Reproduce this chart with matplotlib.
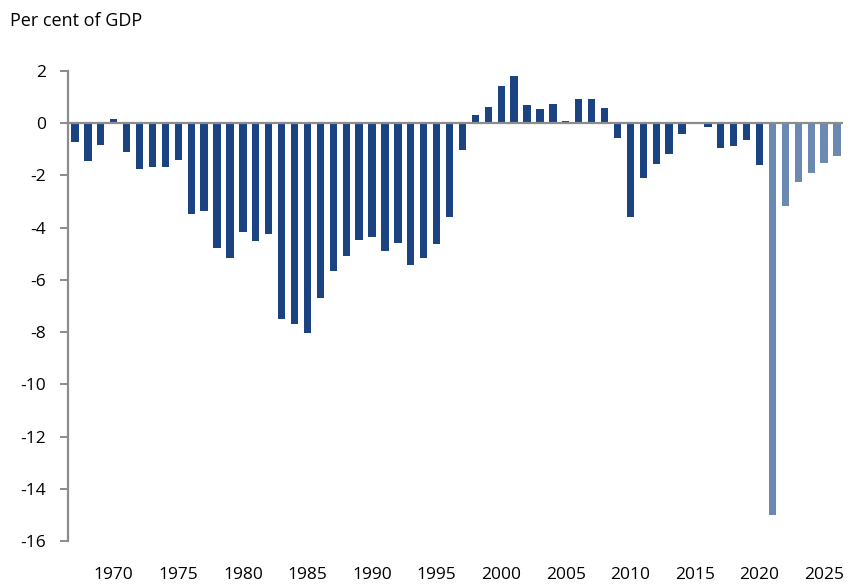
import matplotlib
matplotlib.use("Agg")
import matplotlib.pyplot as plt
import numpy as np

years = list(range(1967, 2027))
values = [
    -0.71, -1.44, -0.84, 0.15, -1.10, -1.75, -1.68, -1.67, -1.40, -3.49,   # 1967-1976
    -3.35, -4.79, -5.17, -4.17, -4.51, -4.24, -7.49, -7.69, -8.05, -6.69,  # 1977-1986
    -5.67, -5.07, -4.46, -4.34, -4.88, -4.60, -5.44, -5.16, -4.62, -3.61,  # 1987-1996
    -1.02, 0.32, 0.61, 1.41, 1.81, 0.70, 0.55, 0.74, 0.10, 0.93,          # 1997-2006
    0.92, 0.60, -0.56, -3.59, -2.09, -1.58, -1.17, -0.42, -0.02, -0.14,   # 2007-2016
    -0.94, -0.89, -0.64, -1.61, -15.0, -3.16, -2.27, -1.89, -1.53, -1.27,  # 2017-2026
]
first_projection_year = 2021
tick_years = list(range(1970, 2030, 5))
yticks = list(range(-16, 3, 2))

dark = "#1B4382"
light = "#6C89B2"
grey = "#8C8C8C"

plt.rcParams['font.family'] = ['Open Sans', 'DejaVu Sans']

fig = plt.figure(figsize=(8.53, 5.87), dpi=100)
ax = fig.add_axes([68/853, 46/587, (843-68)/853, (541-71)/587])

colors = [light if y >= first_projection_year else dark for y in years]
ax.bar(years, values, width=0.57, color=colors, zorder=2)

ax.axhline(0, color=grey, lw=1.6, zorder=3)

ax.set_xlim(years[0] - 0.54, years[-1] + 0.46)
ax.set_ylim(-16, 2)
ax.set_yticks(yticks)
ax.set_yticklabels([str(v) for v in yticks], fontsize=12.5, color="#000000")
ax.set_xticks(tick_years)
ax.set_xticklabels([str(v) for v in tick_years], fontsize=12.5, color="#000000")

for s in ["top", "right", "bottom"]:
    ax.spines[s].set_visible(False)
ax.spines["left"].set_color(grey)
ax.spines["left"].set_linewidth(1.6)
ax.tick_params(axis="y", length=6, width=1.4, color=grey, pad=10)
ax.tick_params(axis="x", length=0, pad=18.5)

fig.text(10/853, 1 - 26.5/587, "Per cent of GDP", fontsize=13, ha="left", va="baseline")

fig.savefig("out.png", dpi=100)
